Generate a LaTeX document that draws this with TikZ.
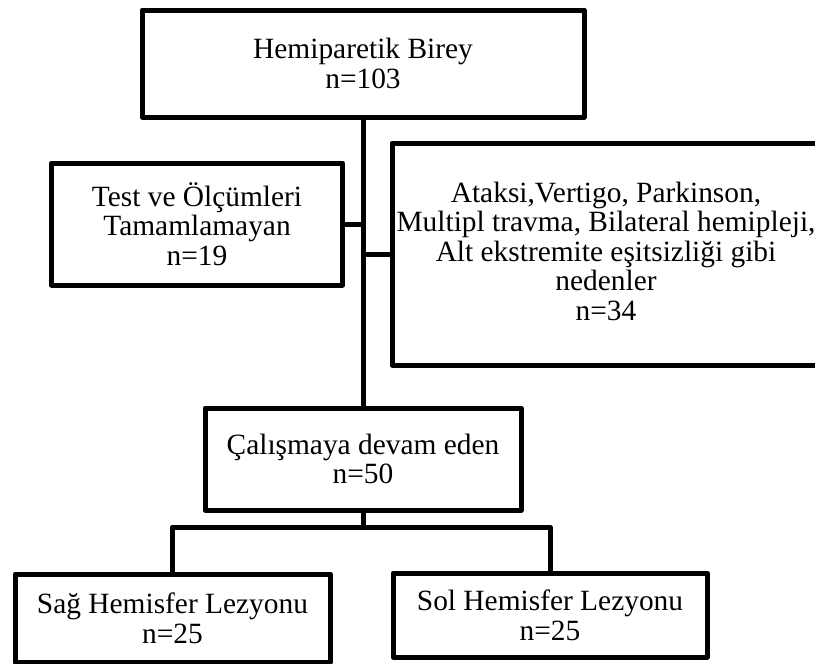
\documentclass[tikz,border=0pt]{standalone}
\usepackage{fontspec}
\setmainfont{Liberation Serif}
\newcommand\boxfont{\fontsize{14.7pt}{14.8pt}\selectfont}
\tikzset{
  box/.style={draw, line width=2.5pt, line join=round, align=center,
    inner sep=0pt, outer sep=0pt, font=\boxfont, fill=white},
  link/.style={line width=2.5pt, line join=round}
}
\begin{document}
\begin{tikzpicture}[x=0.5pt, y=-0.5pt]
\useasboundingbox (0,0) rectangle (815,664);
\clip (0,0) rectangle (815,664);
\fill[white] (0,0) rectangle (815,664);
\node[box, minimum width=221pt, minimum height=53.5pt] (top) at (363,63.5)
  {Hemiparetik Birey\\n=103};
\node[box, minimum width=145.5pt, minimum height=61pt] (left) at (197,224)
  {Test ve Ölçümleri\\Tamamlamayan\\n=19};
\node[box, minimum width=214pt, minimum height=111pt] (right) at (606,254)
  {Ataksi,Vertigo, Parkinson,\\Multipl travma, Bilateral hemipleji,\\Alt ekstremite eşitsizliği gibi\\nedenler\\n=34\rule[-3pt]{0pt}{3pt}};
\node[box, minimum width=158pt, minimum height=51pt] (mid) at (363,459)
  {Çalışmaya devam eden\\n=50};
\node[box, minimum width=157.5pt, minimum height=44pt] (bl) at (172.5,618)
  {Sağ Hemisfer Lezyonu\\n=25};
\node[box, minimum width=157pt, minimum height=42pt] (br) at (550,615)
  {Sol Hemisfer Lezyonu\\n=25};
\coordinate (j) at (363,527);
\draw[link] (top.south) -- (mid.north);
\draw[link] (left.east) -- (top.south |- left.east);
\draw[link] (right.west) -- (top.south |- right.west);
\draw[link] (mid.south) -- (j);
\draw[link] (bl.north) |- (j) -| (br.north);
\end{tikzpicture}
\end{document}
